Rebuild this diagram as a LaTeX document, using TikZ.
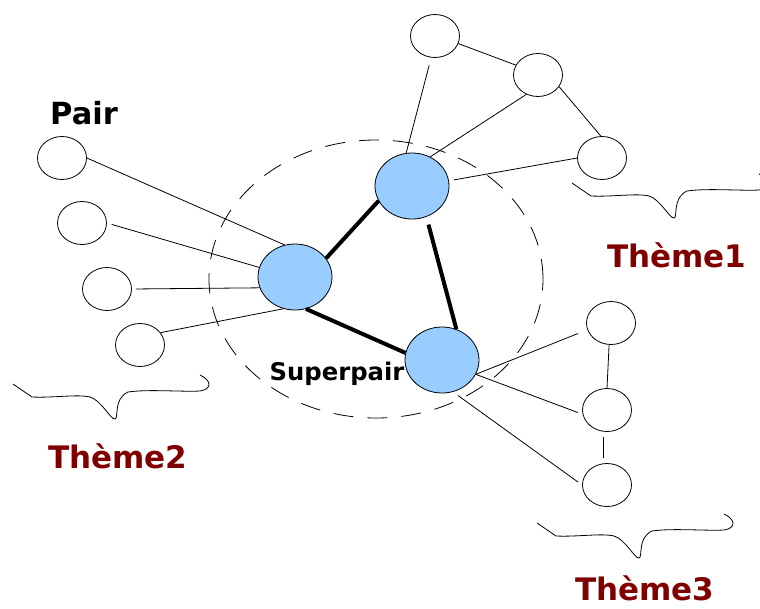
\documentclass[tikz,border=0pt]{standalone}
\usepackage{fontspec}
\setmainfont{DejaVu Sans}
\usetikzlibrary{shapes.geometric}
\definecolor{pairblue}{RGB}{153,204,255}
\definecolor{themered}{RGB}{128,0,0}
\begin{document}
\begin{tikzpicture}[x=1pt,y=-1pt,
  small/.style={ellipse, draw=black, line width=0.8pt, fill=white, inner sep=0pt, minimum width=49pt, minimum height=43pt},
  big/.style={ellipse, draw=black, line width=0.8pt, fill=pairblue, inner sep=0pt, minimum width=74pt, minimum height=66pt},
  link/.style={line width=0.8pt},
  strong/.style={line width=4pt},
  theme/.style={font=\fontsize{31}{36}\selectfont\bfseries, text=themered, anchor=base, inner sep=0pt},
  title/.style={font=\fontsize{30.5}{35}\selectfont\bfseries, text=black, anchor=base, inner sep=0pt},
  sublabel/.style={font=\fontsize{24.3}{29}\selectfont\bfseries, text=black, anchor=base, inner sep=0pt},
  superring/.style={line width=0.8pt, dash pattern=on 20pt off 14pt},
  wavy/.pic={\draw[line width=0.8pt] (0,0) -- (19,13) .. controls (40,14) and (65,10) .. (77,13) .. controls (88,16) and (98,36) .. (102,35) .. controls (106,34) and (100,15) .. (115,8) .. controls (135,5) and (170,8) .. (187,7) .. controls (200,5) and (198,-4) .. (187,-9);}
]
\useasboundingbox (0,0) rectangle (760,608);

% super pair ring
\draw[superring] (376,279) ellipse [x radius=167pt, y radius=139pt];

% nodes
\node[small] (T1) at (435,36) {};
\node[small] (T2) at (538,75) {};
\node[small] (T3) at (602,158) {};
\node[small] (L1) at (62,158) {};
\node[small] (L2) at (82,223) {};
\node[small] (L3) at (107,289) {};
\node[small] (L4) at (140,345) {};
\node[small] (R1) at (611,323) {};
\node[small] (R2) at (607,410) {};
\node[small] (R3) at (607,485) {};
\node[big] (B1) at (412,186) {};
\node[big] (B2) at (295,277) {};
\node[big] (B3) at (442,360) {};

% thin links
\draw[link, shorten <=8pt] (T1.260) -- (B1.100);
\draw[link] (T1.342) -- (T2.156);
\draw[link] (T2.239) -- (B1.58);
\draw[link] (T2.331) -- (T3.93);
\draw[link, shorten >=5pt] (T3.180) -- (B1.8);
\draw[link] (L1.0) -- (B2.108);
\draw[link, shorten <=5pt] (L2.0) -- (B2.165);
\draw[link, shorten <=4pt] (L3.0) -- (B2.197);
\draw[link] (L4.31) -- (B2.250);
\draw[link, shorten >=10pt] (B3.337) -- (R1.196);
\draw[link, shorten >=5pt] (B3.337) -- (R2.190);
\draw[link, shorten <=6pt, shorten >=5pt] (B3.289) -- (R3.180);
\draw[link] (R1.265) -- (R2.90);
\draw[link, shorten <=5pt, shorten >=5pt] (R2.260) -- (R3.100);

% strong links
\draw[strong] (B1.204) -- (B2.31);
\draw[strong, shorten <=8pt] (B1.295) -- (B3.65);
\draw[strong] (B2.289) -- (B3.169);

% braces
\pic at (572,183) {wavy};
\pic at (13,384) {wavy};
\pic at (537,523) {wavy};

% labels
\node[title] (pair) at (84,124) {Pair};
\node[sublabel] (sp) at (337,380) {Superpair};
\node[theme] (th1) at (677,267) {Thème1};
\node[theme] (th2) at (118,468) {Thème2};
\node[theme] (th3) at (645,600) {Thème3};
\end{tikzpicture}
\end{document}
